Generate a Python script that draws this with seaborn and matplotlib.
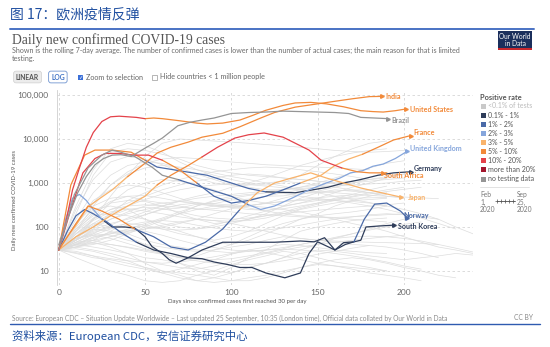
import numpy as np
import pandas as pd
import matplotlib
matplotlib.use("Agg")
import matplotlib.pyplot as plt
from matplotlib.patches import Rectangle
from matplotlib.lines import Line2D
import seaborn as sns

# ---------------- data ----------------
rate_categories = ["<0.1% of tests", "0.1% - 1%", "1% - 2%", "2% - 3%", "3% - 5%",
                   "5% - 10%", "10% - 20%", "more than 20%", "no testing data"]
rate_colors = ["#c9c9c9", "#2f3d5a", "#4a6aa8", "#86a6dc", "#f9b36b",
               "#f28a3a", "#e4424a", "#a3152c", "#959595"]

us_days = [0, 4, 8, 12, 16, 20, 25, 30, 35, 40, 45, 50, 55, 60, 70, 80, 86, 95, 105, 112, 120, 130, 137, 146, 155, 165, 175, 182, 188, 195, 201]
us_cases = [30, 120, 700, 2200, 6500, 14000, 25000, 32000, 33000, 32000, 31000, 29000, 30000, 29000, 26000, 23000, 22000, 23000, 27000, 34000, 45000, 58000, 66000, 68000, 63000, 54000, 44000, 42000, 41000, 44000, 48000]
us_rates = [(0, "10% - 20%"), (50, "5% - 10%")]

india_days = [0, 5, 10, 17, 25, 31, 40, 50, 57, 65, 75, 83, 95, 105, 117, 125, 137, 150, 160, 170, 180, 187]
india_cases = [30, 60, 110, 290, 480, 700, 1400, 2800, 4800, 6500, 8500, 11000, 13500, 19000, 30000, 40000, 53000, 63000, 72000, 82000, 92000, 93000]
india_rates = [(0, "3% - 5%"), (40, "5% - 10%")]

brazil_days = [0, 5, 11, 16, 21, 26, 31, 36, 42, 50, 55, 60, 69, 76, 83, 90, 100, 110, 120, 130, 140, 150, 160, 168, 175, 183, 191]
brazil_cases = [39, 150, 600, 1400, 2600, 3600, 4300, 4400, 4000, 6200, 8000, 10500, 20000, 24000, 27000, 30000, 38000, 40000, 41000, 43000, 42000, 41000, 40000, 38000, 31000, 30000, 29000]
brazil_rates = [(0, "no testing data")]

france_days = [0, 7, 14, 21, 27, 35, 44, 52, 60, 70, 80, 90, 100, 110, 120, 130, 140, 152, 160, 168, 176, 185, 194, 204]
france_cases = [30, 250, 1700, 3600, 4700, 4700, 4300, 4300, 3300, 2000, 1000, 500, 350, 400, 500, 700, 1000, 1500, 2500, 3500, 4500, 6500, 9500, 12000]
france_rates = [(0, "10% - 20%"), (60, "5% - 10%"), (80, "1% - 2%"), (140, "3% - 5%"), (176, "5% - 10%")]

uk_days = [0, 9, 17, 25, 31, 36, 44, 54, 60, 69, 83, 100, 110, 117, 125, 135, 145, 155, 163, 169, 176, 182, 188, 195, 202]
uk_cases = [30, 540, 2200, 4300, 5600, 5000, 4000, 2300, 1500, 1200, 800, 500, 320, 250, 300, 450, 700, 1000, 1300, 1700, 1900, 2400, 2700, 3600, 5300]
uk_rates = [(0, "no testing data"), (69, "1% - 2%"), (110, "2% - 3%")]

germany_days = [0, 7, 15, 21, 31, 42, 50, 57, 70, 86, 100, 110, 120, 137, 156, 165, 175, 185, 194, 204]
germany_cases = [30, 900, 4300, 5600, 5600, 5000, 3300, 2300, 1900, 1500, 1000, 750, 630, 600, 800, 1000, 1200, 1500, 1700, 1800]
germany_rates = [(0, "5% - 10%"), (50, "1% - 2%"), (120, "0.1% - 1%")]

safrica_days = [0, 10, 20, 30, 40, 50, 57, 65, 75, 83, 92, 102, 110, 119, 130, 145, 152, 164, 173, 180, 188]
safrica_cases = [30, 60, 100, 180, 300, 500, 900, 1500, 2500, 3900, 6500, 10500, 12500, 13700, 11000, 5600, 3300, 2200, 1800, 1700, 1700]
safrica_rates = [(0, "3% - 5%"), (57, "5% - 10%"), (83, "10% - 20%"), (164, "5% - 10%")]

japan_days = [0, 10, 17, 25, 35, 44, 55, 65, 75, 85, 95, 105, 115, 125, 135, 146, 155, 165, 175, 187, 198]
japan_cases = [30, 120, 300, 230, 150, 90, 60, 35, 30, 45, 90, 250, 600, 1000, 1300, 1700, 1300, 1000, 770, 600, 480]
japan_rates = [(0, "5% - 10%"), (44, "1% - 2%"), (105, "3% - 5%")]

norway_days = [0, 5, 10, 15, 20, 28, 35, 45, 55, 65, 75, 83, 90, 98, 105, 112, 120, 131, 140, 145, 150, 160, 166, 171, 177, 183, 190, 198, 202]
norway_cases = [30, 80, 180, 250, 200, 130, 80, 45, 30, 25, 20, 19, 16, 14, 12, 12, 9, 7, 9, 25, 46, 30, 40, 46, 150, 330, 350, 230, 160]
norway_rates = [(0, "1% - 2%"), (45, "0.1% - 1%"), (171, "1% - 2%")]

korea_days = [0, 4, 8, 12, 16, 20, 25, 31, 38, 44, 50, 54, 60, 64, 68, 75, 83, 95, 110, 125, 140, 148, 154, 160, 165, 171, 175, 178, 185, 194]
korea_cases = [30, 150, 450, 550, 400, 250, 150, 100, 100, 95, 60, 36, 25, 18, 15, 20, 30, 45, 45, 45, 48, 46, 57, 30, 44, 46, 50, 100, 105, 110]
korea_rates = [(0, "2% - 3%"), (25, "0.1% - 1%")]

# background (unselected countries), one value every 10 days from day 0
bg_days = list(range(0, 250, 10))
bg_high = [
    [30, 300, 2000, 6000, 8000, 7000, 5000, 3000, 2000, 1500, 1200, 1000, 900, 1000, 1500, 2500, 4000, 6000, 8000, 9000],
    [30, 200, 1500, 5000, 6000, 5500, 4500, 3500, 2500, 2000, 1700, 1500, 1400, 1300, 1200, 1100, 1000],
    [30, 50, 150, 500, 1500, 4000, 8000, 10000, 9500, 9000, 8500, 8000, 7500, 7000, 6500, 6000, 5500, 5200, 5000, 5200, 5500],
    [30, 150, 600, 1500, 2500, 3000, 2800, 2200, 1600, 1200, 900, 800, 700, 700, 800, 1000, 1300, 1700, 2200, 2800, 3200],
    [30, 55, 100, 200, 400, 600, 900, 1200, 1500, 1800, 2000, 2200, 2300, 2200, 2000, 1800, 1600, 1400, 1200],
    [30, 60, 150, 350, 700, 1000, 1200, 1100, 900, 700, 500, 400, 350, 300, 350, 450, 600, 800, 1000, 1300, 1600],
    [30, 70, 150, 250, 350, 500, 700, 900, 1100, 1300, 1500, 1600, 1500, 1300, 1200, 1100, 1000, 900],
    [30, 120, 400, 700, 900, 800, 600, 450, 350, 300, 280, 300, 350, 450, 550, 650, 800, 1000, 1200, 1400, 1600],
    [30, 250, 1200, 3000, 4000, 3500, 2600, 1800, 1300, 1000, 900, 1000, 1300, 1800, 2500, 3200, 4000, 4800, 5500, 6000],
    [30, 80, 300, 900, 1800, 2800, 3500, 3800, 3600, 3300, 3000, 2800, 2600, 2500, 2400, 2300, 2200, 2100, 2000],
]
bg_mid = [
    [30, 120, 300, 450, 500, 400, 350, 300, 250, 260, 300, 400, 500, 600, 700, 800, 900, 1000, 1100, 1200, 1300],
    [30, 80, 200, 350, 400, 380, 300, 200, 150, 120, 130, 150, 200, 300, 450, 600, 700, 650, 600, 550],
    [30, 60, 100, 150, 200, 250, 300, 400, 500, 600, 800, 900, 1000, 1100, 1000, 900, 800, 700, 600, 500, 450],
    [30, 40, 60, 70, 80, 90, 100, 120, 150, 200, 260, 300, 350, 380, 400, 420, 400, 380, 350, 300, 250, 200, 150, 100, 70],
    [30, 100, 250, 300, 250, 150, 100, 80, 60, 45, 40, 50, 70, 100, 150, 200, 300, 400, 500, 600],
    [30, 35, 40, 50, 70, 100, 140, 200, 300, 400, 500, 550, 600, 580, 500, 450, 400, 350, 300, 250, 200, 160, 120, 90],
    [30, 90, 180, 200, 180, 150, 120, 100, 90, 100, 120, 150, 180, 200, 220, 240, 260, 280, 300, 320, 350],
    [30, 50, 90, 150, 220, 300, 350, 380, 360, 320, 280, 250, 240, 260, 300, 350, 420, 500, 600, 700, 800],
    [30, 35, 45, 60, 80, 110, 150, 200, 250, 300, 320, 300, 280, 250, 220, 180, 150, 120, 100, 80, 60, 45, 35, 30, 25],
    [30, 60, 110, 180, 250, 280, 260, 220, 180, 160, 150, 160, 180, 220, 280, 350, 450, 550, 700, 850],
    [30, 45, 70, 110, 160, 220, 300, 380, 450, 500, 550, 600, 650, 700, 750, 800, 850, 900, 950, 1000, 1100, 1150],
    [30, 80, 160, 250, 300, 320, 300, 280, 260, 240, 220, 200, 190, 180, 170, 165, 160, 150, 140, 130],
    [30, 40, 55, 70, 90, 120, 160, 220, 300, 380, 450, 520, 600, 700, 800, 900, 1000, 1100, 1200, 1300],
    [30, 50, 85, 120, 150, 190, 250, 270, 330, 340, 410, 430, 500, 510, 580, 600, 650, 690, 700],
    [30, 70, 140, 220, 260, 230, 200, 170, 150, 140, 135, 140, 160, 200, 260, 330, 400, 480, 560, 640, 720, 800],
    [30, 45, 65, 90, 110, 130, 140, 130, 110, 95, 85, 80, 85, 95, 110, 130, 150, 170, 190, 200, 190, 170, 150],
    [30, 90, 220, 380, 500, 520, 450, 380, 330, 300, 290, 310, 340, 380, 420, 460, 500, 540],
    [30, 60, 120, 200, 300, 420, 560, 700, 820, 900, 950, 920, 850, 780, 700, 640, 600, 560, 520, 500, 480, 460, 440],
    [30, 35, 50, 80, 130, 190, 260, 320, 350, 340, 310, 270, 230, 200, 180, 170, 165, 170, 180, 190, 200],
    [30, 110, 350, 900, 1600, 2200, 2500, 2300, 2000, 1700, 1400, 1200, 1000, 850, 700, 600, 500, 420, 360, 300],
    [30, 50, 75, 95, 105, 100, 90, 85, 90, 110, 140, 180, 230, 290, 350, 400, 430, 450, 460, 470],
]
bg_low = [
    [30, 50, 80, 100, 120, 110, 90, 70, 60, 50, 60, 80, 120, 180, 250, 300, 350, 400, 420, 450],
    [30, 45, 50, 40, 35, 30, 25, 20, 22, 30, 40, 60, 90, 120, 150, 180, 200, 220, 250, 300],
    [30, 60, 90, 80, 60, 40, 25, 15, 10, 8, 12, 20, 30, 50, 80, 100, 120, 140, 150, 160],
    [30, 40, 35, 30, 25, 20, 18, 15, 12, 10, 9, 12, 15, 20, 25, 30, 28, 25, 22, 20, 18, 20, 22, 25, 23],
    [30, 55, 70, 65, 50, 40, 35, 30, 28, 30, 35, 40, 50, 60, 55, 50, 45, 40, 38, 35, 30, 25, 20],
    [30, 40, 45, 35, 25, 15, 10, 8, 6, 7, 9, 12, 15, 20, 30, 40, 55, 70, 90, 120, 150],
    [30, 25, 20, 18, 15, 12, 10, 9, 8, 7, 6, 6, 7, 9, 12, 15, 18, 20, 18, 15, 12, 10, 8, 7],
    [30, 70, 120, 100, 70, 50, 40, 35, 30, 28, 26, 30, 35, 40, 38, 34, 30, 28, 26, 25],
    [30, 40, 50, 60, 75, 90, 110, 130, 150, 140, 120, 100, 80, 65, 55, 50, 48, 46, 45, 44, 43, 42, 40],
    [30, 35, 30, 25, 20, 16, 14, 12, 11, 13, 16, 20, 25, 30, 35, 40, 45, 50, 55, 60, 65],
    [30, 20, 14, 10, 8, 6, 5.5, 6, 8, 10, 14, 18, 22, 28, 25, 20, 16, 14, 12, 10],
    [30, 28, 22, 16, 13, 11, 9, 11, 14, 18, 24, 30, 26, 22, 18, 15, 13, 11, 9, 8, 7, 6],
    [30, 38, 42, 40, 34, 28, 24, 21, 19, 18, 19, 22, 26, 32, 40, 48, 55, 60, 62, 60, 55, 48, 40, 33, 27],
    [30, 26, 22, 19, 17, 16, 15, 16, 18, 21, 25, 28, 30, 31, 30, 28, 25, 22, 19, 16, 13, 11],
    [30, 55, 65, 55, 42, 32, 25, 20, 17, 15, 14, 14, 15, 17, 20, 24, 28, 33, 38],
    [30, 42, 58, 75, 85, 80, 65, 50, 40, 34, 30, 28, 30, 34, 40, 48, 58, 70, 85, 100, 115, 130],
    [30, 32, 28, 22, 17, 12, 9, 7, 6, 5.5, 6, 7, 8, 10, 12, 14, 13, 12, 11, 10],
]

# ---------------- build tables ----------------
series = {
    "India": (india_days, india_cases, india_rates),
    "United States": (us_days, us_cases, us_rates),
    "Brazil": (brazil_days, brazil_cases, brazil_rates),
    "France": (france_days, france_cases, france_rates),
    "United Kingdom": (uk_days, uk_cases, uk_rates),
    "Germany": (germany_days, germany_cases, germany_rates),
    "South Africa": (safrica_days, safrica_cases, safrica_rates),
    "Japan": (japan_days, japan_cases, japan_rates),
    "Norway": (norway_days, norway_cases, norway_rates),
    "South Korea": (korea_days, korea_cases, korea_rates),
}


def rate_at(rates, d):
    cat = rates[0][1]
    for start, c in rates:
        if d >= start:
            cat = c
    return cat


rows = []
for name, (days, cases, rates) in series.items():
    seg, prev = 0, None
    for i in range(len(days) - 1):
        c = rate_at(rates, days[i])
        if c != prev:
            seg += 1
            prev = c
            rows.append((f"{name}-{seg}", c, days[i], cases[i]))
        rows.append((f"{name}-{seg}", c, days[i + 1], cases[i + 1]))
sel_df = pd.DataFrame(rows, columns=["seg", "rate", "day", "cases"])

bg_rows = []
for gname, group in (("h", bg_high), ("m", bg_mid), ("l", bg_low)):
    for j, vals in enumerate(group):
        for d, v in zip(bg_days, vals):
            bg_rows.append((f"{gname}{j}", d, v))
bg_df = pd.DataFrame(bg_rows, columns=["unit", "day", "cases"])

palette = dict(zip(rate_categories, rate_colors))

# ---------------- figure ----------------
sns.set_theme(style="white")
plt.rcParams["font.family"] = ["Lato", "Noto Sans CJK SC", "DejaVu Sans"]

W, H = 550, 347
fig = plt.figure(figsize=(W / 100, H / 100), dpi=100)


def T(x, y, s, **kw):
    kw.setdefault("va", "center")
    return fig.text(x / W, 1 - y / H, s, **kw)


ax = fig.add_axes([57 / W, 1 - 285 / H, (473 - 57) / W, (285 - 90) / H])
ax.set_yscale("log")

sns.lineplot(data=bg_df, x="day", y="cases", units="unit", estimator=None,
             color="#dddddd", linewidth=0.5, sort=False, ax=ax, legend=False)
sns.lineplot(data=sel_df, x="day", y="cases", hue="rate", units="seg",
             estimator=None, palette=palette, hue_order=rate_categories,
             linewidth=0.9, sort=False, ax=ax, legend=False)

label_offsets = {
    "India": (3, 0), "United States": (3, 0), "Brazil": (2, -1.5), "France": (2, 2),
    "United Kingdom": (2, 2), "Germany": (2, 2.5), "South Africa": (0.5, -2),
    "Japan": (5, 0), "Norway": (-3, 1.5), "South Korea": (3, -1),
}
for name, (days, cases, rates) in series.items():
    col = palette[rate_at(rates, days[-2])]
    ax.plot([days[-1]], [cases[-1]], marker=">", ms=2.6, color=col, clip_on=False)
    dx, dy = label_offsets[name]
    ax.annotate(name, xy=(days[-1], cases[-1]), xytext=(dx, dy), textcoords="offset points",
                color=col, fontsize=5.1, fontweight="bold", va="center", ha="left",
                annotation_clip=False)

ax.set_xlim(-1, 240)
ax.set_ylim(4.8, 130000)
ax.set_yticks([10, 100, 1000, 10000, 100000])
ax.set_yticklabels(["10", "100", "1,000", "10,000", "100,000"])
ax.set_xticks([0, 50, 100, 150, 200])
ax.minorticks_off()
ax.tick_params(axis="both", length=0, labelsize=6, labelcolor="#666666")
ax.tick_params(axis="y", pad=6)
ax.tick_params(axis="x", pad=3)
ax.grid(True, which="major", ls=(0, (3, 3)), color="#d6d6d6", lw=0.6)
ax.set_xlabel("")
ax.set_ylabel("")
for s in ["top", "right", "bottom"]:
    ax.spines[s].set_visible(False)
ax.spines["left"].set_color("#cfcfcf")
ax.spines["left"].set_linewidth(0.6)

# ---------------- texts ----------------
T(10, 14, "图 17：欧洲疫情反弹", color="#1f4fa0", fontsize=10,
  family=["Noto Sans CJK SC", "DejaVu Sans"])
fig.add_artist(Line2D([10 / W, 534 / W], [1 - 29 / H] * 2, color="#4a72c4", lw=1.4))

T(12, 40, "Daily new confirmed COVID-19 cases", family=["Liberation Serif"],
  fontsize=9.8, color="#555555")
T(12, 50, "Shown is the rolling 7-day average. The number of confirmed cases is lower than the "
          "number of actual cases; the main reason for that is limited",
  fontsize=5.1, color="#6b6b6b")
T(12, 58, "testing.", fontsize=5.1, color="#6b6b6b")

T(16, 77, "LINEAR", fontsize=4.9, color="#555555", fontweight="bold",
  bbox=dict(boxstyle="round,pad=0.35", fc="#ececec", ec="#cfcfcf", lw=0.5))
T(51, 77, "LOG", fontsize=4.9, color="#3a6fc4", fontweight="bold",
  bbox=dict(boxstyle="round,pad=0.35", fc="white", ec="#6f94d0", lw=0.6))
fig.patches.append(Rectangle((78 / W, 1 - 80 / H), 5 / W, 5 / H, transform=fig.transFigure,
                             fc="#3a6fd8", ec="none"))
T(80.5, 77.3, "✓", fontsize=4, color="white", ha="center", family=["DejaVu Sans"])
T(86, 77, "Zoom to selection", fontsize=5.2, color="#666666")
fig.patches.append(Rectangle((152 / W, 1 - 80 / H), 5 / W, 5 / H, transform=fig.transFigure,
                             fc="white", ec="#999999", lw=0.5))
T(160, 77, "Hide countries < 1 million people", fontsize=5.2, color="#666666")

fig.patches.append(Rectangle((498 / W, 1 - 50 / H), 34 / W, 19 / H, transform=fig.transFigure,
                             fc="#1b2f5c", ec="none"))
fig.patches.append(Rectangle((498 / W, 1 - 50 / H), 34 / W, 2 / H, transform=fig.transFigure,
                             fc="#c8282e", ec="none"))
T(515, 40, "Our World\nin Data", fontsize=4.8, color="white", ha="center", linespacing=1.0)

T(15, 200, "Daily new confirmed COVID-19 cases", rotation=90, fontsize=4.3,
  color="#555555", ha="center")
T(237, 301, "Days since confirmed cases first reached 30 per day", fontsize=4.4,
  color="#555555", ha="center")
T(12, 318, "Source: European CDC – Situation Update Worldwide – Last updated 25 September, "
           "10:35 (London time), Official data collated by Our World in Data",
  fontsize=4.75, color="#8a8a8a")
T(533, 318, "CC BY", fontsize=4.75, color="#8a8a8a", ha="right")
fig.add_artist(Line2D([10 / W, 540 / W], [1 - 324 / H] * 2, color="#2f5bb0", lw=1.0))
T(12, 336, "资料来源：European CDC，安信证券研究中心", fontsize=8.2, color="#1f4fa0",
  style="italic", family=["Noto Sans CJK SC", "DejaVu Sans"])

# legend
T(480, 97, "Positive rate", fontsize=5.3, fontweight="bold", color="#555555")
legend_y = [106, 115, 124, 133, 142, 151, 161, 170, 179]
for cat, col, yy in zip(rate_categories, rate_colors, legend_y):
    fig.patches.append(Rectangle((481 / W, 1 - (yy + 2.5) / H), 5 / W, 5 / H,
                                 transform=fig.transFigure, fc=col, ec="none"))
    T(488, yy, cat, fontsize=5.0, color="#bbbbbb" if cat.startswith("<") else "#555555")
fig.add_artist(Line2D([480 / W, 529 / W], [1 - 187 / H] * 2, color="#dddddd", lw=0.6))
T(480, 202, "Feb\n1,\n2020", fontsize=4.8, color="#777777", linespacing=1.0)
T(517, 202, "Sep\n25,\n2020", fontsize=4.8, color="#777777", linespacing=1.0)
fig.add_artist(Line2D([497 / W, 515 / W], [1 - 201 / H] * 2, color="#555555", lw=0.5))
for xx in [497, 501, 505, 509, 513]:
    fig.add_artist(Line2D([xx / W], [1 - 201 / H], color="#555555", marker="+", ms=2.5, lw=0,
                          mew=0.5))

fig.savefig("out.png", dpi=100)
